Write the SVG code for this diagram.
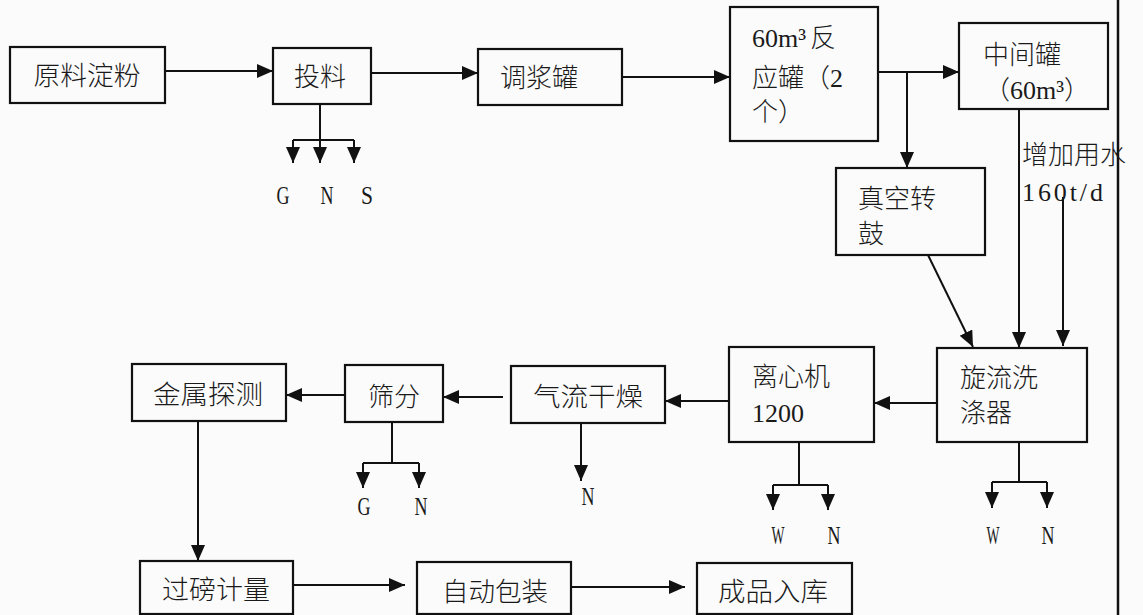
<svg xmlns="http://www.w3.org/2000/svg" width="1143" height="615" viewBox="0 0 1143 615">
<style>
.box{fill:none;stroke:#111;stroke-width:2.2}
.ln{fill:none;stroke:#111;stroke-width:2}
.cn{font-family:"Noto Sans CJK SC","Noto Sans CJK JP",sans-serif;font-size:26px;fill:#1a1a1a;font-weight:300}
.lt{font-family:"Liberation Serif",serif;font-size:26px;fill:#1a1a1a}
.lb{font-family:"Liberation Serif",serif;font-size:26px;fill:#1a1a1a;text-anchor:middle}
</style>
<defs>
<marker id="ah" markerUnits="userSpaceOnUse" markerWidth="17" markerHeight="15" refX="16" refY="7" orient="auto">
<path d="M0,0 L16,7 L0,14 z" fill="#111"/>
</marker>
</defs>
<rect x="0" y="0" width="1143" height="615" fill="#fbfbfb"/>
<line x1="1118" y1="0" x2="1118" y2="615" stroke="#111" stroke-width="2.5"/>

<g id="connectors">
<path class="ln" d="M165,71 H273" marker-end="url(#ah)"/>
<path class="ln" d="M371,73 H478" marker-end="url(#ah)"/>
<path class="ln" d="M622,77 H730" marker-end="url(#ah)"/>
<path class="ln" d="M878,72 H959" marker-end="url(#ah)"/>
<path class="ln" d="M907,72 V168" marker-end="url(#ah)"/>
<path class="ln" d="M320,104 V140 M293,140 H354"/>
<path class="ln" d="M293,140 V163" marker-end="url(#ah)"/>
<path class="ln" d="M320,140 V163" marker-end="url(#ah)"/>
<path class="ln" d="M354,140 V163" marker-end="url(#ah)"/>
<path class="ln" d="M1019,109 V348" marker-end="url(#ah)"/>
<path class="ln" d="M1063,197 V346" marker-end="url(#ah)"/>
<path class="ln" d="M928,255 L973,347" marker-end="url(#ah)"/>
<path class="ln" d="M937,403 H874" marker-end="url(#ah)"/>
<path class="ln" d="M729,401 H665" marker-end="url(#ah)"/>
<path class="ln" d="M503,397 H443" marker-end="url(#ah)"/>
<path class="ln" d="M345,395 H286" marker-end="url(#ah)"/>
<path class="ln" d="M198,421 V561" marker-end="url(#ah)"/>
<path class="ln" d="M293,585 H405" marker-end="url(#ah)"/>
<path class="ln" d="M571,587 H685" marker-end="url(#ah)"/>
<path class="ln" d="M392,422 V463 M363,463 H419"/>
<path class="ln" d="M363,463 V488" marker-end="url(#ah)"/>
<path class="ln" d="M419,463 V488" marker-end="url(#ah)"/>
<path class="ln" d="M581,423 V481" marker-end="url(#ah)"/>
<path class="ln" d="M799,442 V485 M773,485 H828"/>
<path class="ln" d="M773,485 V510" marker-end="url(#ah)"/>
<path class="ln" d="M828,485 V510" marker-end="url(#ah)"/>
<path class="ln" d="M1019,442 V482 M992,482 H1047"/>
<path class="ln" d="M992,482 V508" marker-end="url(#ah)"/>
<path class="ln" d="M1047,482 V508" marker-end="url(#ah)"/>
</g>

<g id="labels">
<text class="lb" x="283" y="204" textLength="13" lengthAdjust="spacingAndGlyphs">G</text>
<text class="lb" x="327" y="204" textLength="13" lengthAdjust="spacingAndGlyphs">N</text>
<text class="lb" x="367" y="204" textLength="12" lengthAdjust="spacingAndGlyphs">S</text>
<text class="lb" x="364" y="515" textLength="13" lengthAdjust="spacingAndGlyphs">G</text>
<text class="lb" x="421" y="515" textLength="13" lengthAdjust="spacingAndGlyphs">N</text>
<text class="lb" x="588" y="505" textLength="13" lengthAdjust="spacingAndGlyphs">N</text>
<text class="lb" x="778" y="544" textLength="13" lengthAdjust="spacingAndGlyphs">W</text>
<text class="lb" x="834" y="544" textLength="13" lengthAdjust="spacingAndGlyphs">N</text>
<text class="lb" x="993" y="544" textLength="13" lengthAdjust="spacingAndGlyphs">W</text>
<text class="lb" x="1048" y="544" textLength="13" lengthAdjust="spacingAndGlyphs">N</text>
<text class="cn" x="1022" y="164">增加用水</text>
<text class="lt" x="1022" y="201" textLength="81" lengthAdjust="spacing">160t/d</text>
</g>

<g id="n1"><rect class="box" x="10" y="47" width="155" height="56"/><text class="cn" x="87" y="85" text-anchor="middle" textLength="107" lengthAdjust="spacingAndGlyphs">原料淀粉</text></g>
<g id="n2"><rect class="box" x="273" y="48" width="98" height="56"/><text class="cn" x="320" y="86" text-anchor="middle">投料</text></g>
<g id="n3"><rect class="box" x="478" y="49" width="144" height="56"/><text class="cn" x="500" y="87">调浆罐</text></g>
<g id="n4"><rect class="box" x="730" y="7" width="148" height="134"/>
<text x="752" y="47"><tspan class="lt">60m³</tspan><tspan class="cn" dx="4">反</tspan></text>
<text x="752" y="87"><tspan class="cn">应罐（</tspan><tspan class="lt">2</tspan></text>
<text class="cn" x="752" y="121">个）</text></g>
<g id="n5"><rect class="box" x="959" y="23" width="149" height="86"/>
<text class="cn" x="983" y="64">中间罐</text>
<text x="984" y="99"><tspan class="cn">（</tspan><tspan class="lt">60m³</tspan><tspan class="cn">）</tspan></text></g>
<g id="n6"><rect class="box" x="836" y="168" width="149" height="87"/>
<text class="cn" x="858" y="208">真空转</text><text class="cn" x="858" y="243">鼓</text></g>
<g id="n7"><rect class="box" x="937" y="348" width="150" height="94"/>
<text class="cn" x="960" y="387">旋流洗</text><text class="cn" x="960" y="422">涤器</text></g>
<g id="n8"><rect class="box" x="729" y="347" width="145" height="95"/>
<text class="cn" x="752" y="386">离心机</text><text class="lt" x="752" y="422">1200</text></g>
<g id="n9"><rect class="box" x="511" y="366" width="154" height="57"/><text class="cn" x="588" y="406" text-anchor="middle" textLength="110" lengthAdjust="spacingAndGlyphs">气流干燥</text></g>
<g id="n10"><rect class="box" x="345" y="365" width="98" height="57"/><text class="cn" x="394" y="406" text-anchor="middle">筛分</text></g>
<g id="n11"><rect class="box" x="132" y="364" width="154" height="57"/><text class="cn" x="208" y="404" text-anchor="middle" textLength="110" lengthAdjust="spacingAndGlyphs">金属探测</text></g>
<g id="n12"><rect class="box" x="140" y="561" width="153" height="53"/><text class="cn" x="216" y="599" text-anchor="middle" textLength="108" lengthAdjust="spacingAndGlyphs">过磅计量</text></g>
<g id="n13"><rect class="box" x="417" y="562" width="154" height="52"/><text class="cn" x="495" y="601" text-anchor="middle" textLength="106" lengthAdjust="spacingAndGlyphs">自动包装</text></g>
<g id="n14"><rect class="box" x="697" y="563" width="155" height="51"/><text class="cn" x="773" y="601" text-anchor="middle" textLength="110" lengthAdjust="spacingAndGlyphs">成品入库</text></g>
</svg>
